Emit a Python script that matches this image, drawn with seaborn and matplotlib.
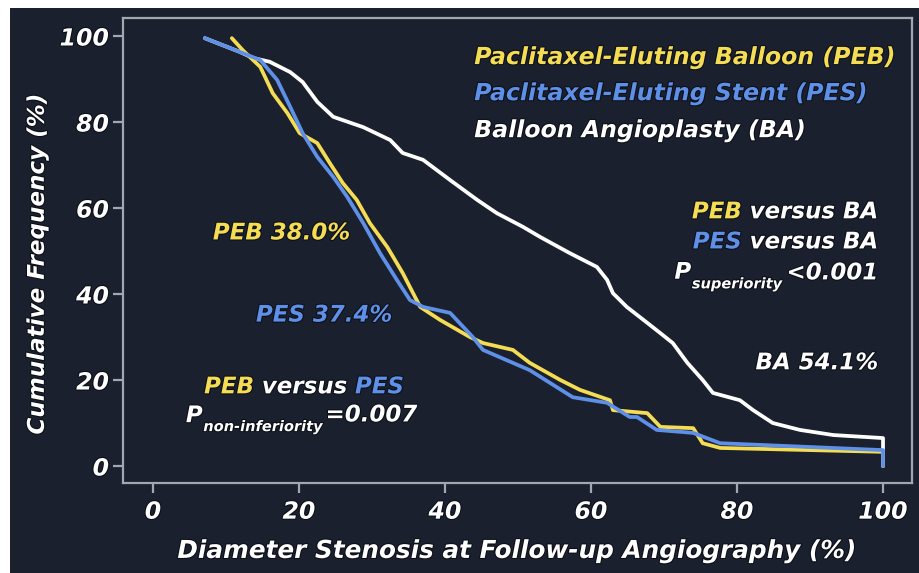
import matplotlib
matplotlib.use("Agg")
import matplotlib.pyplot as plt
import matplotlib.patheffects as pe
import numpy as np
import pandas as pd
import seaborn as sns

# Cumulative frequency curves of diameter stenosis (%) at follow-up angiography
peb_x = [10.8, 12.3, 14.7, 16.4, 18.4, 20.1, 22.5, 24.2, 26.0, 27.9, 29.7, 32.1, 34.2,
         35.2, 36.6, 39.3, 43.4, 45.2, 49.3, 51.6, 55.8, 58.5, 62.6, 63.0, 67.7, 69.5,
         74.0, 75.3, 77.7, 100.0, 100.0]
peb_y = [99.5, 96.7, 92.8, 86.7, 82.1, 77.4, 75.1, 70.5, 65.8, 61.9, 56.5, 50.9, 44.9,
         41.6, 37.0, 34.0, 30.0, 28.6, 27.0, 24.0, 20.0, 17.7, 15.3, 13.0, 12.3, 9.1,
         8.8, 5.3, 4.2, 3.3, 0.0]

pes_x = [7.1, 11.9, 14.7, 17.0, 18.8, 20.5, 22.5, 24.7, 26.6, 28.8, 31.1, 33.4, 35.2,
         37.0, 40.7, 43.8, 45.2, 51.6, 57.5, 62.2, 65.3, 66.3, 69.0, 74.0, 77.7, 100.0, 100.0]
pes_y = [99.5, 96.3, 94.4, 89.8, 83.5, 77.4, 71.9, 67.2, 62.6, 56.5, 49.5, 43.3, 38.6,
         37.0, 35.6, 30.0, 27.0, 22.3, 16.0, 14.7, 11.4, 11.4, 8.4, 7.7, 5.3, 3.7, 0.0]

ba_x = [7.1, 11.9, 13.7, 16.0, 18.8, 20.5, 22.5, 24.7, 28.8, 32.5, 34.2, 37.0, 40.7,
        44.4, 47.1, 50.7, 53.0, 57.1, 60.8, 62.2, 63.0, 64.9, 67.7, 69.5, 71.2, 73.2,
        75.3, 76.7, 80.4, 82.2, 84.9, 88.6, 93.2, 100.0, 100.0]
ba_y = [99.5, 96.3, 94.9, 94.0, 91.6, 89.3, 84.7, 81.2, 78.8, 75.8, 72.8, 71.2, 66.5,
        61.9, 58.8, 55.6, 53.3, 49.5, 46.3, 43.3, 40.2, 37.0, 33.3, 30.9, 28.6, 24.0,
        20.0, 17.0, 15.3, 13.0, 10.0, 8.4, 7.2, 6.5, 0.0]

groups = ["BA", "PEB", "PES"]
legend_labels = ["Paclitaxel-Eluting Balloon (PEB)",
                 "Paclitaxel-Eluting Stent (PES)",
                 "Balloon Angioplasty (BA)"]
x_ticks = [0, 20, 40, 60, 80, 100]
y_ticks = [0, 20, 40, 60, 80, 100]

YELLOW = "#f4dc55"
BLUE = "#5f90e8"
WHITE = "#ffffff"
NAVY = "#1a202e"
FRAME = "#a3a8b0"

frames = []
for name, xs, ys in [("BA", ba_x, ba_y), ("PEB", peb_x, peb_y), ("PES", pes_x, pes_y)]:
    frames.append(pd.DataFrame({"stenosis": xs, "freq": ys, "group": name}))
data = pd.concat(frames, ignore_index=True)

sns.set_theme(style="dark")
plt.rcParams["font.family"] = ["DejaVu Sans"]

fig = plt.figure(figsize=(9.2, 5.73), dpi=100, facecolor="white")
# navy panel with a thin white margin on the top and left
fig.patches.append(plt.Rectangle((10 / 920, 0), 1, 1 - 8 / 573, transform=fig.transFigure,
                                 facecolor=NAVY, edgecolor="none", zorder=-10))
ax = fig.add_axes([123 / 920, 1 - 483 / 573, 789 / 920, 465 / 573])
ax.set_facecolor(NAVY)

sns.lineplot(data=data, x="stenosis", y="freq", hue="group", hue_order=groups,
             palette={"BA": WHITE, "PEB": YELLOW, "PES": BLUE},
             estimator=None, sort=False, linewidth=2.7, legend=False, ax=ax)

ax.set_xlim(-4.11, 103.97)
ax.set_ylim(-3.95, 104.19)
ax.set_xticks(x_ticks)
ax.set_yticks(y_ticks)
ax.grid(False)
for s in ax.spines.values():
    s.set_visible(True)
    s.set_color(FRAME)
    s.set_linewidth(1.6)

tick_font = dict(fontsize=17, fontweight="bold", fontstyle="italic", color=WHITE)
ax.set_xticklabels([str(t) for t in x_ticks], **tick_font)
ax.set_yticklabels([str(t) for t in y_ticks], **tick_font)
ax.tick_params(axis="both", direction="out", length=7, width=1.6, color=FRAME,
               bottom=True, left=True)
ax.tick_params(axis="x", pad=5)
ax.tick_params(axis="y", pad=3)

ax.set_xlabel("Diameter Stenosis at Follow-up Angiography (%)", labelpad=11,
              fontsize=17.8, fontweight="bold", fontstyle="italic", color=WHITE)
ax.set_ylabel("Cumulative Frequency (%)",
              fontsize=16.6, fontweight="bold", fontstyle="italic", color=WHITE)
ax.yaxis.set_label_coords(-0.094, 0.47)

shadow = [pe.withStroke(linewidth=1.5, foreground="#0b0e16")]
for t in ax.get_xticklabels() + ax.get_yticklabels() + [ax.xaxis.label, ax.yaxis.label]:
    t.set_path_effects(shadow)

txt = dict(fontweight="bold", fontstyle="italic", path_effects=shadow)
FS = 16.5
SUB = 10.5

# series names
for lbl, col, yv in zip(legend_labels, [YELLOW, BLUE, WHITE], [95.1, 86.7, 78.1]):
    ax.text(44.0, yv, lbl, color=col, fontsize=17, ha="left", va="center", **txt)

# restenosis rates
ax.text(8.2, 54.2, "PEB 38.0%", color=YELLOW, fontsize=FS, ha="left", va="center", **txt)
ax.text(14.1, 35.1, "PES 37.4%", color=BLUE, fontsize=FS, ha="left", va="center", **txt)
ax.text(99.3, 24.0, "BA 54.1%", color=WHITE, fontsize=FS, ha="right", va="center", **txt)


def chain_left(x, y, parts):
    """Write coloured pieces one after another, starting at (x, y)."""
    prev = None
    for s, col, fs, dy in parts:
        if prev is None:
            prev = ax.text(x, y, s, color=col, fontsize=fs, ha="left", va="baseline", **txt)
        else:
            prev = ax.annotate(s, xy=(1, 0), xycoords=prev, xytext=(0, dy),
                               textcoords="offset points", color=col, fontsize=fs,
                               ha="left", va="bottom", **txt)
    return prev


def chain_right(x, y, parts):
    """Write coloured pieces right to left, ending at (x, y)."""
    prev = None
    for s, col, fs, dy in reversed(parts):
        if prev is None:
            prev = ax.text(x, y, s, color=col, fontsize=fs, ha="right", va="baseline", **txt)
        else:
            prev = ax.annotate(s, xy=(0, 0), xycoords=prev, xytext=(0, dy),
                               textcoords="offset points", color=col, fontsize=fs,
                               ha="right", va="bottom", **txt)
    return prev


# non-inferiority comparison
chain_left(7.0, 16.9, [("PEB", YELLOW, FS, 0), (" versus ", WHITE, FS, 0),
                       ("PES", BLUE, FS, 0)])
p1 = ax.text(4.5, 10.2, "P", color=WHITE, fontsize=FS, ha="left", va="baseline", **txt)
s1 = ax.annotate("non-inferiority", xy=(1, 0), xycoords=p1, xytext=(0.5, -5),
                 textcoords="offset points", color=WHITE, fontsize=SUB,
                 ha="left", va="bottom", **txt)
ax.annotate("=0.007", xy=(1, 0), xycoords=s1, xytext=(2, 5.5), textcoords="offset points",
            color=WHITE, fontsize=FS, ha="left", va="bottom", **txt)

# superiority comparison
chain_right(99.3, 57.6, [("PEB", YELLOW, FS, 0), (" versus BA", WHITE, FS, 0)])
chain_right(99.3, 50.6, [("PES", BLUE, FS, 0), (" versus BA", WHITE, FS, 0)])
sub_lt = ax.text(99.3, 43.4, "<0.001", color=WHITE, fontsize=FS, ha="right",
                 va="baseline", **txt)
sub_s = ax.annotate("superiority", xy=(0, 0), xycoords=sub_lt, xytext=(-3, -5),
                    textcoords="offset points", color=WHITE, fontsize=SUB,
                    ha="right", va="bottom", **txt)
ax.annotate("P", xy=(0, 0), xycoords=sub_s, xytext=(-0.5, 5.5), textcoords="offset points",
            color=WHITE, fontsize=FS, ha="right", va="bottom", **txt)

fig.savefig("out.png", dpi=100, facecolor=fig.get_facecolor())
